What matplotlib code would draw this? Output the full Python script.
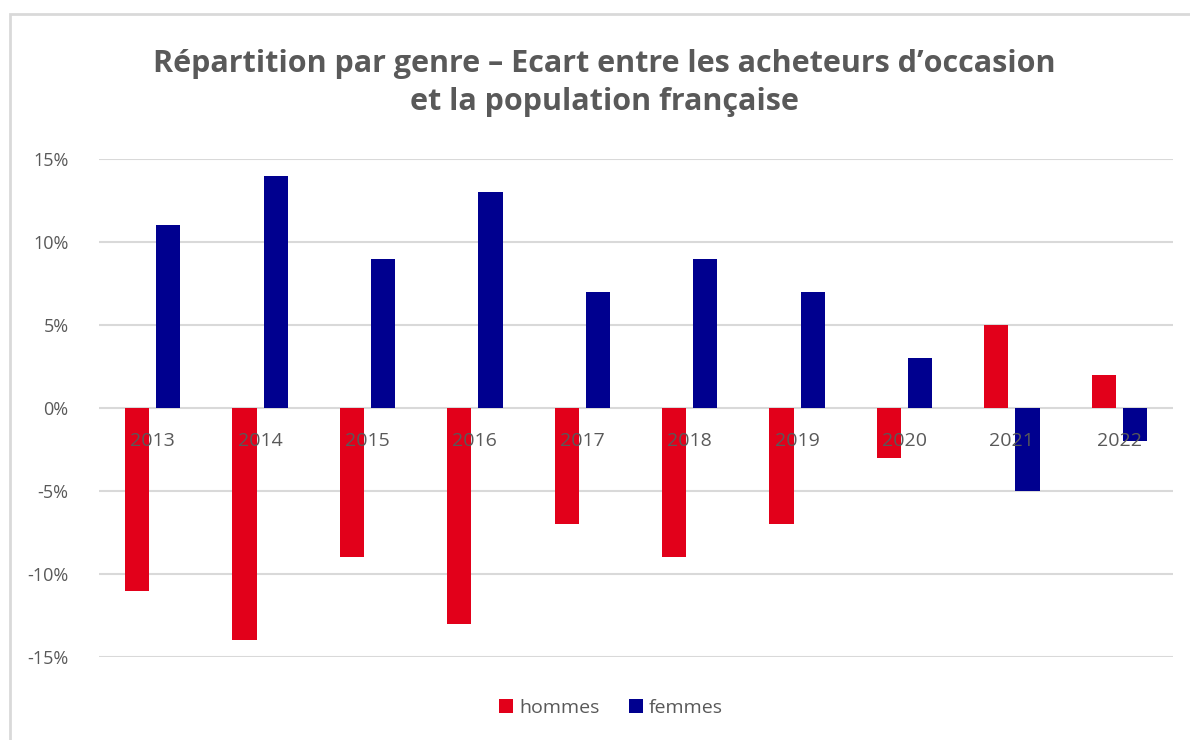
import matplotlib
matplotlib.use('Agg')
from matplotlib import pyplot as plt
from matplotlib.ticker import FuncFormatter
from matplotlib.patches import Rectangle
import numpy as np

years = ['2013', '2014', '2015', '2016', '2017', '2018', '2019', '2020', '2021', '2022']
hommes = [-11, -14, -9, -13, -7, -9, -7, -3, 5, 2]
femmes = [11, 14, 9, 13, 7, 9, 7, 3, -5, -2]

red = '#E2001A'
blue = '#00008F'
grey_txt = '#595959'
grid_col = '#D9D9D9'

plt.rcParams['font.family'] = ['Open Sans', 'DejaVu Sans']

fig = plt.figure(figsize=(11.9, 7.4), dpi=100)
# chart border like the spreadsheet frame
fig.patches.append(Rectangle((10 / 1190, -0.1), 1.2, 1.1 - 14 / 740, transform=fig.transFigure,
                             fill=False, edgecolor='#D9D9D9', linewidth=2))

ax = fig.add_axes([99 / 1190, 1 - 657 / 740, (1173 - 99) / 1190, (657 - 159) / 740])

x = np.arange(len(years))
w = 0.225
ax.bar(x - 0.145, hommes, w, color=red, label='hommes', zorder=3)
ax.bar(x + 0.145, femmes, w, color=blue, label='femmes', zorder=3)

ax.set_xlim(-0.5, len(years) - 0.5)
ax.set_ylim(-15, 15)
ax.set_yticks(range(-15, 16, 5))
ax.yaxis.set_major_formatter(FuncFormatter(lambda v, p: '%d%%' % v))
ax.grid(axis='y', color=grid_col, linewidth=1.5, zorder=0)

for s in ['top', 'right', 'left', 'bottom']:
    ax.spines[s].set_visible(False)

# year labels sit on the zero line, drawn over the bars
ax.set_xticks([])
for xi, yr in zip(x, years):
    ax.annotate(yr, (xi, 0), xytext=(0, -24), textcoords='offset pixels', ha='center', va='top',
                fontsize=14, color=grey_txt, zorder=6)
ax.tick_params(axis='y', length=0, pad=22, labelsize=13, labelcolor=grey_txt)

fig.text(0.508, 0.888, 'Répartition par genre \u2013 Ecart entre les acheteurs d\u2019occasion\net la population française',
         ha='center', va='center', fontsize=22, fontweight='bold', color=grey_txt, linespacing=1.35)

leg = fig.legend(loc='center', bbox_to_anchor=(611 / 1190, 1 - 708 / 740), ncol=2, frameon=False,
                 fontsize=14, handlelength=0.75, handleheight=0.75, handletextpad=0.3, columnspacing=1.5)
for t in leg.get_texts():
    t.set_color(grey_txt)

fig.savefig('out.png', dpi=100)
